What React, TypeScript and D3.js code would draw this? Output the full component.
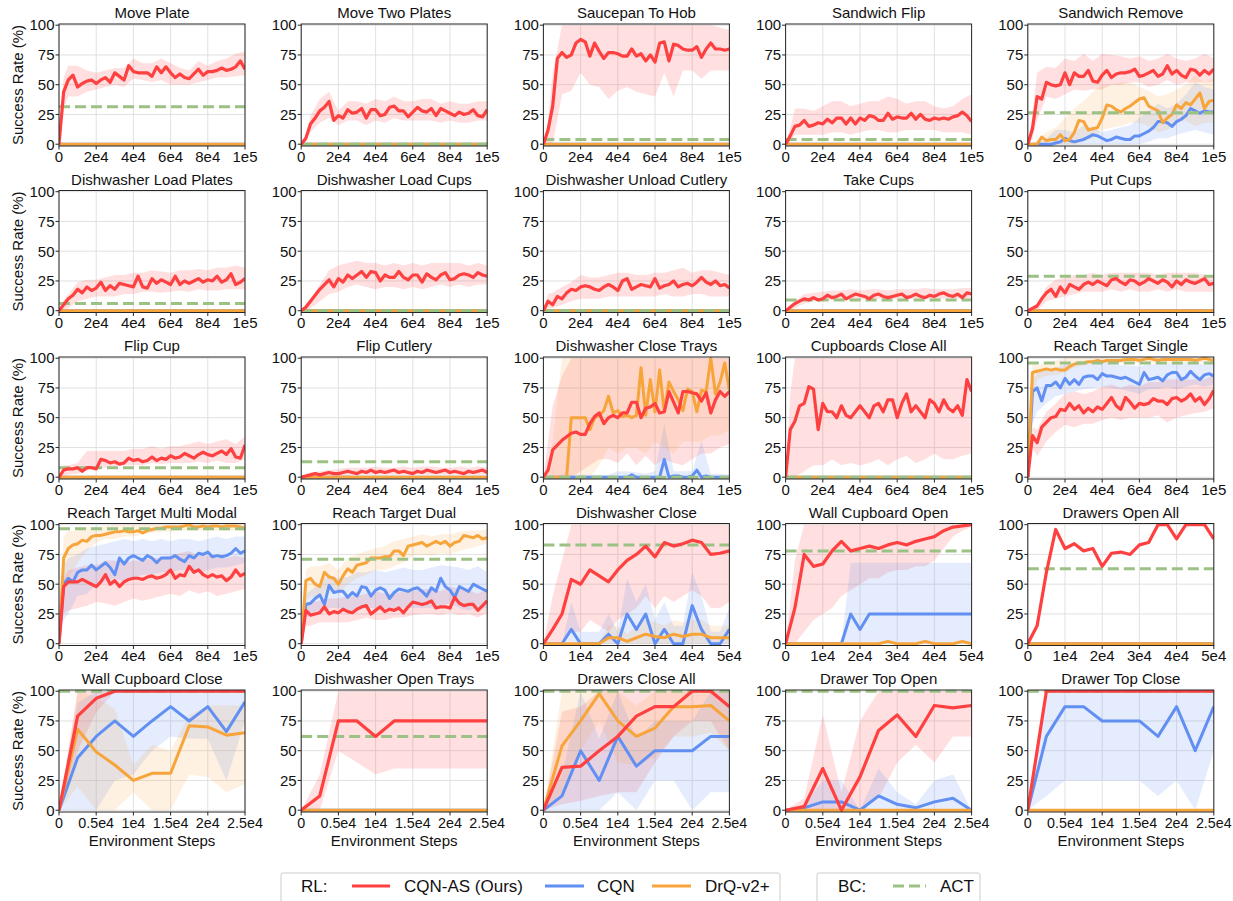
import React from 'react';
import * as d3 from 'd3';

const RED = '#ff4040';
const BLUE = '#6190f2';
const ORANGE = '#f7a43a';
const GREEN = '#9cc185';
const FONT = '"Liberation Sans", Arial, sans-serif';

// ---- data (x in thousands of environment steps, y in %) ----
const titles = [
  'Move Plate', 'Move Two Plates', 'Saucepan To Hob', 'Sandwich Flip', 'Sandwich Remove',
  'Dishwasher Load Plates', 'Dishwasher Load Cups', 'Dishwasher Unload Cutlery', 'Take Cups', 'Put Cups',
  'Flip Cup', 'Flip Cutlery', 'Dishwasher Close Trays', 'Cupboards Close All', 'Reach Target Single',
  'Reach Target Multi Modal', 'Reach Target Dual', 'Dishwasher Close', 'Wall Cupboard Open', 'Drawers Open All',
  'Wall Cupboard Close', 'Dishwasher Open Trays', 'Drawers Close All', 'Drawer Top Open', 'Drawer Top Close',
];
const spans = [100, 100, 100, 100, 100, 100, 100, 100, 100, 100, 100, 100, 100, 100, 100, 100, 100, 50, 50, 50, 25, 25, 25, 25, 25];
const actLevels = [31.5, 0, 4, 4, 26.5, 6, 0, 0, 9, 29, 8, 13, 0, 0, 96, 96.5, 71, 83, 78, 63, 100, 62, 100, 100, 100];

const yTicks = [0, 25, 50, 75, 100];
const xTicks100 = [0, 20, 40, 60, 80, 100];
const xLabels100 = ['0', '2e4', '4e4', '6e4', '8e4', '1e5'];
const xTicks50 = [0, 10, 20, 30, 40, 50];
const xLabels50 = ['0', '1e4', '2e4', '3e4', '4e4', '5e4'];
const xTicks25 = [0, 5, 10, 15, 20, 25];
const xLabels25 = ['0', '0.5e4', '1e4', '1.5e4', '2e4', '2.5e4'];

const steps1e5 = [0, 2.5, 5, 7.5, 10, 12.5, 15, 17.5, 20, 22.5, 25, 27.5, 30, 32.5, 35, 37.5, 40, 42.5, 45, 47.5, 50, 52.5, 55, 57.5, 60, 62.5, 65, 67.5, 70, 72.5, 75, 77.5, 80, 82.5, 85, 87.5, 90, 92.5, 95, 97.5, 100];
const bandSteps1e5 = [0, 2.5, 5, 10, 15, 20, 25, 30, 35, 40, 45, 50, 55, 60, 65, 70, 75, 80, 85, 90, 95, 100];
const steps5e4 = [0, 2.5, 5, 7.5, 10, 12.5, 15, 17.5, 20, 22.5, 25, 27.5, 30, 32.5, 35, 37.5, 40, 42.5, 45, 47.5, 50];
const steps25e3 = [0, 2.5, 5, 7.5, 10, 12.5, 15, 17.5, 20, 22.5, 25];
const zeroLine = [0, 0];

// Move Plate
const movePlateAs = [0, 44, 54, 58, 48, 51, 53, 54, 51, 54, 56, 52, 60, 57, 54, 66, 61, 60, 60, 60, 57, 65, 60, 65, 60, 56, 59, 56, 55, 59, 63, 58, 61, 61, 62, 64, 62, 63, 65, 70, 63];
const movePlateAsLo = [0, 30, 40, 40, 44, 46, 48, 50, 48, 55, 54, 52, 54, 50, 50, 50, 52, 54, 56, 56, 57, 58];
const movePlateAsHi = [0, 56, 66, 66, 62, 60, 62, 64, 64, 72, 68, 68, 72, 68, 64, 62, 70, 66, 70, 72, 76, 78];
// Move Two Plates
const moveTwoAs = [0, 5, 17, 22, 28, 31, 36, 20, 24, 22, 29, 26, 27, 30, 22, 29, 29, 24, 25, 31, 32, 28, 28, 23, 27, 31, 28, 27, 30, 24, 30, 28, 26, 24, 27, 25, 26, 29, 24, 23, 29];
const moveTwoAsLo = [0, 2, 10, 18, 22, 16, 20, 20, 16, 20, 18, 22, 20, 20, 20, 20, 18, 20, 18, 18, 20, 20];
const moveTwoAsHi = [0, 8, 24, 38, 44, 28, 36, 36, 34, 38, 36, 40, 36, 36, 38, 38, 34, 36, 34, 34, 36, 36];
// Saucepan To Hob
const saucepanAs = [0, 12, 32, 72, 77, 73, 75, 85, 88, 86, 74, 85, 78, 72, 77, 77, 76, 74, 74, 80, 74, 76, 70, 75, 69, 85, 86, 70, 84, 83, 80, 79, 79, 82, 73, 80, 85, 80, 80, 79, 80];
const saucepanAsLo = [0, 0, 0, 42, 45, 60, 50, 48, 38, 45, 48, 44, 42, 40, 60, 40, 62, 62, 55, 62, 62, 62];
const saucepanAsHi = [0, 20, 60, 100, 100, 100, 100, 100, 100, 100, 100, 100, 100, 100, 100, 100, 100, 100, 100, 100, 98, 96];
// Sandwich Flip
const flipSandAs = [0, 7, 15, 16, 20, 15, 16, 18, 17, 21, 18, 22, 22, 17, 22, 17, 22, 20, 24, 23, 20, 20, 26, 21, 23, 22, 22, 26, 21, 25, 21, 20, 22, 21, 22, 21, 23, 24, 27, 24, 19];
const flipSandAsLo = [0, 2, 8, 8, 8, 8, 10, 10, 8, 10, 12, 12, 10, 10, 12, 12, 12, 12, 10, 10, 10, 8];
const flipSandAsHi = [0, 14, 30, 30, 28, 32, 36, 36, 32, 34, 36, 36, 40, 38, 34, 36, 36, 32, 30, 32, 38, 42];
// Sandwich Remove
const removeSandAs = [0, 13, 40, 38, 52, 50, 49, 50, 60, 50, 60, 57, 57, 62, 53, 52, 58, 62, 56, 59, 60, 60, 61, 63, 57, 58, 60, 62, 57, 59, 66, 59, 62, 58, 56, 63, 62, 58, 62, 59, 63];
const removeSandAsLo = [0, 5, 20, 40, 38, 42, 46, 45, 46, 46, 50, 50, 52, 52, 48, 50, 54, 50, 52, 52, 52, 52];
const removeSandAsHi = [0, 25, 60, 65, 64, 72, 70, 76, 70, 76, 75, 74, 72, 74, 70, 72, 76, 72, 70, 72, 76, 72];
const removeSandCqn = [0, 0, 0, 0, 0, 0, 1, 2, 5, 3, 2, 3, 4, 6, 8, 7, 5, 3, 4, 6, 5, 4, 4, 7, 7, 9, 11, 14, 19, 19, 18, 15, 19, 21, 24, 30, 28, 26, 28, 27, 27];
const removeSandCqnLo = [0, 0, 0, 0, 0, 0, 0, 0, 0, 0, 0, 0, 0, 0, 2, 5, 5, 8, 10, 12, 10, 8];
const removeSandCqnHi = [0, 0, 0, 5, 12, 12, 10, 16, 14, 10, 12, 14, 16, 22, 28, 34, 30, 34, 42, 52, 48, 46];
const removeSandDrq = [0, 0, 0, 6, 3, 4, 4, 8, 3, 4, 10, 20, 19, 12, 13, 14, 22, 33, 32, 29, 27, 30, 32, 35, 38, 39, 32, 30, 28, 18, 22, 25, 33, 30, 35, 33, 38, 43, 30, 36, 37];
const removeSandDrqLo = [0, 0, 0, 0, 0, 0, 0, 2, 5, 12, 14, 15, 18, 18, 15, 10, 12, 18, 20, 15, 18, 18];
const removeSandDrqHi = [0, 0, 4, 10, 14, 22, 30, 36, 44, 50, 50, 52, 52, 48, 45, 40, 42, 46, 50, 58, 52, 55];
// Dishwasher Load Plates
const loadPlatesAs = [0, 5, 10, 13, 18, 15, 20, 17, 19, 24, 17, 21, 18, 23, 22, 21, 20, 29, 20, 19, 27, 23, 26, 24, 22, 29, 22, 25, 23, 25, 27, 24, 26, 25, 29, 24, 26, 31, 22, 24, 27];
const loadPlatesAsLo = [0, 1, 2, 8, 10, 12, 12, 12, 14, 14, 16, 16, 15, 16, 17, 16, 18, 17, 17, 18, 18, 18];
const loadPlatesAsHi = [0, 9, 14, 24, 26, 26, 28, 30, 30, 32, 32, 34, 33, 32, 34, 34, 35, 34, 36, 36, 38, 36];
// Dishwasher Load Cups
const loadCupsAs = [0, 3, 8, 13, 18, 22, 26, 20, 27, 24, 30, 27, 30, 33, 28, 33, 32, 25, 30, 28, 28, 33, 28, 26, 30, 30, 24, 31, 28, 26, 30, 32, 26, 27, 30, 31, 30, 28, 32, 30, 29];
const loadCupsAsLo = [0, 0, 2, 8, 14, 16, 20, 22, 20, 18, 20, 20, 18, 20, 18, 20, 22, 20, 22, 20, 22, 22];
const loadCupsAsHi = [0, 6, 10, 22, 34, 38, 40, 42, 40, 40, 38, 40, 38, 40, 38, 40, 40, 40, 40, 38, 40, 38];
// Dishwasher Unload Cutlery
const unloadAs = [0, 8, 5, 12, 10, 15, 18, 17, 20, 21, 20, 18, 17, 20, 22, 20, 17, 25, 27, 18, 20, 22, 21, 20, 27, 19, 21, 22, 25, 20, 22, 23, 21, 24, 28, 24, 22, 25, 21, 22, 19];
const unloadAsLo = [0, 2, 2, 5, 8, 10, 10, 10, 12, 12, 12, 12, 12, 12, 14, 12, 12, 14, 14, 12, 12, 12];
const unloadAsHi = [0, 14, 15, 20, 24, 30, 28, 28, 30, 32, 32, 30, 30, 32, 32, 34, 36, 32, 34, 34, 32, 30];
// Take Cups
const takeCupsAs = [0, 3, 6, 8, 10, 9, 11, 9, 10, 13, 11, 12, 14, 10, 12, 14, 13, 12, 10, 13, 14, 12, 11, 12, 13, 14, 11, 12, 14, 12, 11, 13, 12, 14, 15, 13, 12, 14, 11, 15, 14];
const takeCupsAsLo = [0, 1, 2, 6, 8, 8, 9, 9, 9, 9, 10, 10, 10, 10, 10, 10, 10, 10, 10, 10, 10, 10];
const takeCupsAsHi = [0, 5, 8, 14, 15, 16, 17, 17, 18, 17, 18, 18, 17, 18, 18, 18, 19, 18, 18, 18, 19, 19];
// Put Cups
const putCupsAs = [0, 2, 4, 10, 15, 18, 12, 20, 15, 22, 20, 18, 22, 24, 22, 25, 23, 21, 26, 27, 24, 22, 26, 25, 22, 24, 27, 25, 23, 26, 24, 20, 25, 22, 26, 24, 23, 25, 27, 22, 23];
const putCupsAsLo = [0, 0, 0, 8, 10, 12, 14, 16, 16, 16, 18, 16, 18, 16, 16, 18, 16, 18, 16, 16, 16, 16];
const putCupsAsHi = [0, 4, 6, 20, 26, 28, 30, 30, 32, 30, 32, 32, 32, 32, 32, 30, 32, 32, 32, 32, 30, 30];
// Flip Cup
const flipCupAs = [0, 6, 7, 7, 8, 5, 8, 8, 7, 15, 14, 12, 13, 11, 12, 16, 14, 15, 13, 14, 17, 14, 16, 15, 18, 16, 17, 20, 18, 16, 19, 21, 19, 18, 20, 22, 19, 24, 17, 16, 27];
const flipCupAsLo = [0, 1, 2, 3, 6, 8, 8, 9, 10, 10, 10, 12, 11, 12, 12, 12, 13, 12, 14, 12, 12, 15];
const flipCupAsHi = [0, 10, 10, 12, 22, 22, 22, 22, 22, 24, 24, 26, 24, 26, 26, 28, 30, 28, 30, 32, 28, 34];
// Flip Cutlery
const flipCutleryAs = [0, 1, 2, 3, 2, 3, 4, 3, 3, 4, 5, 4, 3, 5, 4, 6, 4, 5, 4, 5, 6, 4, 5, 4, 3, 5, 4, 6, 5, 4, 5, 6, 4, 5, 4, 3, 5, 4, 5, 6, 4];
const flipCutleryAsLo = [0, 0, 0, 1, 1, 1, 1, 2, 2, 2, 2, 2, 2, 2, 2, 2, 2, 2, 2, 2, 2, 2];
const flipCutleryAsHi = [0, 3, 4, 5, 6, 7, 8, 8, 8, 9, 8, 8, 9, 8, 9, 9, 8, 8, 9, 8, 9, 8];
// Dishwasher Close Trays
const closeTraysAs = [0, 6, 23, 27, 31, 34, 37, 38, 36, 36, 45, 51, 54, 45, 50, 52, 50, 54, 54, 63, 63, 50, 58, 59, 62, 54, 55, 72, 63, 54, 72, 72, 71, 70, 64, 71, 54, 65, 72, 68, 72];
const closeTraysAsLo = [0, 0, 0, 0, 0, 5, 10, 15, 15, 12, 20, 10, 18, 10, 15, 12, 10, 15, 20, 20, 25, 28];
const closeTraysAsHi = [0, 30, 60, 85, 100, 100, 100, 100, 100, 100, 100, 100, 100, 100, 100, 100, 100, 100, 100, 100, 100, 100];
const closeTraysCqn = [0, 0, 0, 0, 0, 0, 0, 0, 0, 0, 0, 0, 0, 0, 0, 0, 0, 0, 0, 2, 0, 0, 0, 0, 0, 0, 15, 0, 1, 1, 0, 0, 1, 6, 0, 1, 0, 0, 0, 0, 0];
const closeTraysCqnLo = [0, 0, 0, 0, 0, 0, 0, 0, 0, 0, 0, 0, 0, 0, 0, 0, 0, 0, 0, 0, 0, 0];
const closeTraysCqnHi = [0, 0, 0, 2, 2, 2, 2, 2, 2, 5, 5, 4, 3, 5, 45, 5, 5, 5, 30, 3, 3, 2];
const closeTraysDrq = [0, 0, 0, 0, 0, 0, 50, 50, 50, 50, 40, 50, 52, 56, 68, 54, 56, 51, 52, 50, 52, 92, 52, 82, 55, 90, 55, 80, 72, 65, 56, 74, 72, 55, 73, 72, 100, 70, 80, 96, 73];
const closeTraysDrqLo = [0, 0, 0, 0, 0, 0, 0, 10, 25, 20, 25, 25, 20, 30, 25, 20, 30, 30, 30, 35, 35, 40];
const closeTraysDrqHi = [0, 0, 30, 100, 100, 100, 100, 100, 100, 100, 100, 100, 100, 100, 100, 100, 100, 100, 100, 100, 100, 100];
// Cupboards Close All
const cupboardsAs = [0, 40, 47, 60, 62, 76, 74, 40, 62, 55, 55, 50, 60, 52, 50, 55, 60, 55, 50, 60, 62, 55, 65, 65, 50, 62, 70, 55, 60, 55, 50, 65, 62, 55, 65, 58, 55, 60, 52, 82, 72];
const cupboardsAsLo = [0, 0, 0, 5, 10, 10, 15, 10, 12, 10, 12, 15, 10, 15, 18, 12, 15, 20, 15, 15, 18, 20];
const cupboardsAsHi = [0, 70, 100, 100, 100, 100, 100, 100, 100, 100, 100, 100, 100, 100, 100, 100, 100, 100, 100, 100, 100, 100];
// Reach Target Single
const reachSingleAs = [0, 35, 29, 42, 46, 50, 51, 57, 56, 62, 57, 60, 54, 58, 55, 59, 57, 62, 67, 60, 57, 67, 63, 58, 62, 61, 62, 66, 64, 64, 61, 66, 67, 64, 66, 70, 64, 67, 61, 66, 73];
const reachSingleAsLo = [0, 25, 18, 30, 38, 44, 42, 45, 45, 48, 50, 48, 50, 50, 50, 52, 46, 50, 52, 54, 55, 58];
const reachSingleAsHi = [0, 42, 40, 55, 62, 70, 72, 70, 72, 76, 78, 75, 78, 76, 80, 80, 82, 82, 82, 82, 82, 86];
const reachSingleCqn = [0, 72, 75, 64, 77, 77, 80, 75, 83, 78, 82, 78, 84, 85, 85, 82, 87, 85, 85, 84, 83, 84, 82, 80, 78, 88, 82, 83, 84, 81, 86, 88, 88, 82, 84, 89, 85, 82, 86, 87, 85];
const reachSingleCqnLo = [0, 45, 55, 62, 68, 70, 72, 74, 75, 76, 75, 74, 72, 70, 74, 74, 76, 74, 76, 78, 76, 78];
const reachSingleCqnHi = [0, 82, 88, 90, 92, 95, 95, 95, 96, 96, 96, 94, 94, 93, 95, 95, 96, 95, 96, 96, 95, 96];
const reachSingleDrq = [0, 88, 89, 90, 91, 90, 91, 90, 90, 93, 95, 96, 96, 97, 97, 98, 97, 98, 98, 98, 98, 99, 99, 99, 98, 99, 100, 99, 98, 99, 99, 99, 99, 99, 99, 99, 98, 99, 100, 99, 98];
const reachSingleDrqLo = [0, 60, 82, 85, 86, 88, 92, 94, 96, 96, 96, 96, 96, 96, 96, 96, 96, 96, 96, 96, 96, 96];
const reachSingleDrqHi = [0, 95, 94, 96, 98, 100, 100, 100, 100, 100, 100, 100, 100, 100, 100, 100, 100, 100, 100, 100, 100, 100];
// Reach Target Multi Modal
const reachMultiAs = [0, 48, 52, 52, 52, 54, 52, 50, 48, 52, 58, 50, 53, 48, 52, 54, 55, 55, 54, 56, 57, 55, 56, 58, 62, 55, 58, 57, 65, 60, 62, 58, 56, 58, 56, 57, 53, 56, 62, 57, 59];
const reachMultiAsLo = [0, 25, 28, 30, 32, 35, 34, 32, 35, 38, 36, 38, 40, 42, 40, 45, 42, 44, 40, 42, 44, 46];
const reachMultiAsHi = [0, 55, 62, 64, 66, 66, 70, 70, 68, 70, 70, 72, 72, 74, 76, 78, 74, 74, 72, 72, 74, 72];
const reachMultiCqn = [0, 50, 55, 52, 60, 62, 62, 66, 62, 65, 68, 64, 58, 72, 67, 72, 74, 72, 70, 74, 72, 68, 72, 72, 72, 74, 71, 69, 74, 72, 76, 75, 77, 73, 74, 73, 74, 76, 80, 76, 78];
const reachMultiCqnLo = [0, 20, 25, 40, 42, 50, 52, 55, 52, 55, 58, 58, 60, 60, 62, 62, 60, 62, 64, 64, 66, 68];
const reachMultiCqnHi = [0, 65, 72, 75, 80, 82, 84, 86, 88, 86, 88, 86, 88, 86, 88, 88, 86, 88, 90, 88, 90, 90];
const reachMultiDrq = [0, 72, 80, 83, 84, 87, 86, 90, 91, 91, 92, 93, 94, 94, 95, 94, 94, 95, 93, 95, 96, 97, 97, 98, 98, 98, 98, 99, 100, 98, 98, 99, 98, 99, 99, 98, 99, 99, 99, 98, 97];
const reachMultiDrqLo = [0, 40, 55, 68, 78, 85, 88, 88, 90, 90, 92, 93, 94, 94, 95, 95, 95, 95, 95, 95, 95, 94];
const reachMultiDrqHi = [0, 90, 95, 95, 98, 98, 99, 100, 100, 100, 100, 100, 100, 100, 100, 100, 100, 100, 100, 100, 100, 100];
// Reach Target Dual
const reachDualAs = [0, 28, 24, 25, 26, 31, 25, 27, 26, 29, 27, 26, 29, 31, 32, 25, 28, 31, 27, 29, 28, 30, 26, 31, 35, 34, 33, 34, 36, 30, 31, 31, 30, 39, 34, 32, 33, 33, 28, 32, 36];
const reachDualAsLo = [0, 15, 15, 18, 18, 18, 18, 20, 22, 20, 20, 22, 22, 24, 25, 25, 24, 26, 24, 25, 22, 26];
const reachDualAsHi = [0, 35, 35, 36, 38, 38, 40, 40, 42, 44, 42, 42, 44, 44, 46, 46, 44, 48, 46, 45, 42, 46];
const reachDualCqn = [0, 33, 34, 38, 41, 33, 49, 43, 44, 44, 39, 43, 40, 48, 47, 40, 45, 47, 45, 38, 43, 46, 45, 44, 46, 47, 44, 40, 47, 44, 55, 48, 45, 39, 48, 46, 44, 50, 48, 46, 44];
const reachDualCqnLo = [0, 22, 25, 25, 30, 30, 28, 28, 30, 30, 30, 30, 30, 30, 30, 30, 32, 34, 30, 28, 30, 30];
const reachDualCqnHi = [0, 42, 45, 50, 58, 55, 56, 60, 60, 62, 60, 62, 64, 62, 62, 64, 66, 65, 64, 62, 65, 60];
const reachDualDrq = [0, 53, 55, 50, 48, 60, 56, 55, 50, 57, 63, 60, 66, 67, 68, 72, 72, 72, 73, 73, 78, 78, 74, 82, 83, 84, 85, 82, 84, 86, 84, 86, 82, 85, 86, 91, 90, 89, 91, 88, 89];
const reachDualDrqLo = [0, 35, 40, 38, 45, 42, 50, 55, 58, 62, 62, 65, 68, 74, 75, 74, 76, 75, 78, 80, 82, 84];
const reachDualDrqHi = [0, 62, 65, 65, 68, 62, 72, 75, 78, 80, 82, 86, 88, 90, 92, 90, 92, 92, 94, 95, 95, 96];
// Dishwasher Close
const dwCloseAs = [0, 12, 25, 54, 50, 62, 57, 52, 62, 70, 75, 82, 73, 85, 82, 84, 87, 85, 75, 76, 78];
const dwCloseAsLo = [0, 0, 0, 10, 10, 20, 15, 10, 20, 25, 30, 40, 30, 40, 35, 40, 45, 40, 30, 30, 35];
const dwCloseAsHi = [0, 40, 70, 100, 100, 100, 100, 100, 100, 100, 100, 100, 100, 100, 100, 100, 100, 100, 100, 100, 100];
const dwCloseCqn = [0, 0, 0, 12, 0, 0, 0, 8, 0, 25, 12, 25, 0, 12, 0, 0, 32, 12, 0, 0, 12];
const dwCloseCqnLo = [0, 0, 0, 0, 0, 0, 0, 0, 0, 0, 0, 0, 0, 0, 0, 0, 0, 0, 0, 0, 0];
const dwCloseCqnHi = [0, 0, 0, 35, 10, 10, 10, 25, 10, 55, 35, 50, 20, 35, 15, 15, 60, 40, 10, 10, 30];
const dwCloseDrq = [0, 0, 0, 0, 0, 0, 0, 5, 5, 2, 5, 8, 6, 5, 8, 6, 8, 8, 5, 5, 5];
const dwCloseDrqLo = [0, 0, 0, 0, 0, 0, 0, 0, 0, 0, 0, 0, 0, 0, 0, 0, 0, 0, 0, 0, 0];
const dwCloseDrqHi = [0, 0, 0, 0, 0, 0, 2, 15, 15, 8, 15, 20, 18, 15, 20, 18, 20, 20, 15, 15, 15];
// Wall Cupboard Open
const wallOpenAs = [0, 30, 75, 65, 67, 78, 86, 78, 80, 82, 80, 83, 85, 83, 86, 88, 90, 95, 98, 99, 100];
const wallOpenAsLo = [0, 0, 10, 20, 25, 30, 40, 45, 50, 55, 55, 60, 62, 62, 65, 65, 70, 80, 90, 95, 98];
const wallOpenAsHi = [0, 70, 100, 100, 100, 100, 100, 100, 100, 100, 100, 100, 100, 100, 100, 100, 100, 100, 100, 100, 100];
const wallOpenCqn = [0, 0, 0, 0, 0, 0, 0, 25, 12, 25, 25, 25, 25, 25, 25, 25, 25, 25, 25, 25, 25];
const wallOpenCqnLo = [0, 0, 0, 0, 0, 0, 0, 0, 0, 0, 0, 0, 0, 0, 0, 0, 0, 0, 0, 0, 0];
const wallOpenCqnHi = [0, 0, 0, 0, 0, 0, 0, 68, 68, 68, 68, 68, 68, 68, 68, 68, 68, 68, 68, 68, 68];
const wallOpenDrq = [0, 0, 0, 0, 0, 0, 0, 0, 0, 0, 0, 2, 0, 0, 0, 2, 0, 0, 0, 2, 0];
// Drawers Open All
const drawersOpenAs = [0, 15, 60, 96, 80, 84, 78, 80, 65, 76, 77, 75, 83, 85, 100, 100, 88, 100, 100, 100, 88];
// Wall Cupboard Close
const wallCloseAs = [0, 79, 94, 100, 100, 100, 100, 100, 100, 100, 100];
const wallCloseAsLo = [0, 50, 82, 100, 100, 100, 100, 100, 100, 100, 100];
const wallCloseAsHi = [0, 100, 100, 100, 100, 100, 100, 100, 100, 100, 100];
const wallCloseCqn = [0, 44, 62, 75, 62, 75, 87, 75, 87, 66, 91];
const wallCloseCqnLo = [0, 0, 0, 25, 30, 50, 62, 60, 60, 25, 75];
const wallCloseCqnHi = [0, 90, 100, 100, 100, 100, 100, 100, 100, 100, 100];
const wallCloseDrq = [0, 68, 49, 38, 25, 31, 31, 71, 70, 63, 65];
const wallCloseDrqLo = [0, 20, 0, 0, 15, 0, 0, 30, 28, 15, 22];
const wallCloseDrqHi = [0, 100, 95, 85, 38, 55, 50, 80, 88, 88, 88];
// Dishwasher Open Trays
const openTraysAs = [0, 12, 75, 75, 62, 75, 75, 75, 75, 75, 75];
const openTraysAsLo = [0, 0, 50, 40, 30, 35, 35, 35, 35, 35, 35];
const openTraysAsHi = [0, 30, 100, 100, 100, 100, 100, 100, 100, 100, 100];
// Drawers Close All
const drawersCloseAs = [0, 36, 37, 50, 62, 79, 87, 87, 100, 100, 87];
const drawersCloseAsLo = [0, 5, 8, 12, 15, 15, 40, 62, 75, 75, 50];
const drawersCloseAsHi = [0, 83, 87, 100, 100, 100, 100, 100, 100, 100, 100];
const drawersCloseCqn = [0, 12, 50, 25, 62, 37, 50, 50, 50, 62, 62];
const drawersCloseCqnLo = [0, 0, 0, 0, 15, 0, 25, 25, 0, 15, 15];
const drawersCloseCqnHi = [0, 30, 100, 60, 100, 60, 75, 75, 75, 100, 100];
const drawersCloseDrq = [0, 54, 75, 98, 75, 62, 69, 87, 87, 88, 75];
const drawersCloseDrqLo = [0, 15, 50, 75, 40, 38, 45, 62, 62, 65, 50];
const drawersCloseDrqHi = [0, 100, 100, 100, 100, 88, 100, 100, 100, 100, 100];
// Drawer Top Open
const topOpenAs = [0, 3, 35, 0, 28, 67, 80, 62, 88, 86, 88];
const topOpenAsLo = [0, 0, 0, 0, 0, 10, 40, 55, 40, 62, 62];
const topOpenAsHi = [0, 10, 80, 15, 75, 100, 100, 100, 100, 100, 100];
const topOpenCqn = [0, 2, 7, 7, 0, 12, 5, 2, 7, 10, 0];
const topOpenCqnLo = [0, 0, 0, 0, 0, 0, 0, 0, 0, 0, 0];
const topOpenCqnHi = [0, 5, 25, 25, 0, 35, 15, 5, 25, 30, 0];
// Drawer Top Close
const topCloseAs = [0, 100, 100, 100, 100, 100, 100, 100, 100, 100, 100];
const topCloseCqn = [0, 62, 87, 87, 75, 75, 75, 62, 87, 50, 87];
const topCloseCqnLo = [0, 12, 25, 25, 25, 25, 25, 12, 25, 0, 50];
const topCloseCqnHi = [0, 100, 100, 100, 100, 100, 100, 100, 100, 100, 100];

type Series = { y: number[]; x: number[]; lo?: number[]; hi?: number[]; bx?: number[] };

function ser(y: number[], x: number[], lo?: number[], hi?: number[], bx?: number[]): Series {
  return { y, x, lo, hi, bx: bx || x };
}
function flat(span: number): Series {
  return { y: zeroLine, x: [0, span] };
}

const B = bandSteps1e5;
const panels: { red: Series; blue: Series; orange: Series }[] = [
  { red: ser(movePlateAs, steps1e5, movePlateAsLo, movePlateAsHi, B), blue: flat(100), orange: flat(100) },
  { red: ser(moveTwoAs, steps1e5, moveTwoAsLo, moveTwoAsHi, B), blue: flat(100), orange: flat(100) },
  { red: ser(saucepanAs, steps1e5, saucepanAsLo, saucepanAsHi, B), blue: flat(100), orange: flat(100) },
  { red: ser(flipSandAs, steps1e5, flipSandAsLo, flipSandAsHi, B), blue: flat(100), orange: flat(100) },
  {
    red: ser(removeSandAs, steps1e5, removeSandAsLo, removeSandAsHi, B),
    blue: ser(removeSandCqn, steps1e5, removeSandCqnLo, removeSandCqnHi, B),
    orange: ser(removeSandDrq, steps1e5, removeSandDrqLo, removeSandDrqHi, B),
  },
  { red: ser(loadPlatesAs, steps1e5, loadPlatesAsLo, loadPlatesAsHi, B), blue: flat(100), orange: flat(100) },
  { red: ser(loadCupsAs, steps1e5, loadCupsAsLo, loadCupsAsHi, B), blue: flat(100), orange: flat(100) },
  { red: ser(unloadAs, steps1e5, unloadAsLo, unloadAsHi, B), blue: flat(100), orange: flat(100) },
  { red: ser(takeCupsAs, steps1e5, takeCupsAsLo, takeCupsAsHi, B), blue: flat(100), orange: flat(100) },
  { red: ser(putCupsAs, steps1e5, putCupsAsLo, putCupsAsHi, B), blue: flat(100), orange: flat(100) },
  { red: ser(flipCupAs, steps1e5, flipCupAsLo, flipCupAsHi, B), blue: flat(100), orange: flat(100) },
  { red: ser(flipCutleryAs, steps1e5, flipCutleryAsLo, flipCutleryAsHi, B), blue: flat(100), orange: flat(100) },
  {
    red: ser(closeTraysAs, steps1e5, closeTraysAsLo, closeTraysAsHi, B),
    blue: ser(closeTraysCqn, steps1e5, closeTraysCqnLo, closeTraysCqnHi, B),
    orange: ser(closeTraysDrq, steps1e5, closeTraysDrqLo, closeTraysDrqHi, B),
  },
  { red: ser(cupboardsAs, steps1e5, cupboardsAsLo, cupboardsAsHi, B), blue: flat(100), orange: flat(100) },
  {
    red: ser(reachSingleAs, steps1e5, reachSingleAsLo, reachSingleAsHi, B),
    blue: ser(reachSingleCqn, steps1e5, reachSingleCqnLo, reachSingleCqnHi, B),
    orange: ser(reachSingleDrq, steps1e5, reachSingleDrqLo, reachSingleDrqHi, B),
  },
  {
    red: ser(reachMultiAs, steps1e5, reachMultiAsLo, reachMultiAsHi, B),
    blue: ser(reachMultiCqn, steps1e5, reachMultiCqnLo, reachMultiCqnHi, B),
    orange: ser(reachMultiDrq, steps1e5, reachMultiDrqLo, reachMultiDrqHi, B),
  },
  {
    red: ser(reachDualAs, steps1e5, reachDualAsLo, reachDualAsHi, B),
    blue: ser(reachDualCqn, steps1e5, reachDualCqnLo, reachDualCqnHi, B),
    orange: ser(reachDualDrq, steps1e5, reachDualDrqLo, reachDualDrqHi, B),
  },
  {
    red: ser(dwCloseAs, steps5e4, dwCloseAsLo, dwCloseAsHi),
    blue: ser(dwCloseCqn, steps5e4, dwCloseCqnLo, dwCloseCqnHi),
    orange: ser(dwCloseDrq, steps5e4, dwCloseDrqLo, dwCloseDrqHi),
  },
  {
    red: ser(wallOpenAs, steps5e4, wallOpenAsLo, wallOpenAsHi),
    blue: ser(wallOpenCqn, steps5e4, wallOpenCqnLo, wallOpenCqnHi),
    orange: ser(wallOpenDrq, steps5e4),
  },
  { red: ser(drawersOpenAs, steps5e4), blue: flat(50), orange: flat(50) },
  {
    red: ser(wallCloseAs, steps25e3, wallCloseAsLo, wallCloseAsHi),
    blue: ser(wallCloseCqn, steps25e3, wallCloseCqnLo, wallCloseCqnHi),
    orange: ser(wallCloseDrq, steps25e3, wallCloseDrqLo, wallCloseDrqHi),
  },
  { red: ser(openTraysAs, steps25e3, openTraysAsLo, openTraysAsHi), blue: flat(25), orange: flat(25) },
  {
    red: ser(drawersCloseAs, steps25e3, drawersCloseAsLo, drawersCloseAsHi),
    blue: ser(drawersCloseCqn, steps25e3, drawersCloseCqnLo, drawersCloseCqnHi),
    orange: ser(drawersCloseDrq, steps25e3, drawersCloseDrqLo, drawersCloseDrqHi),
  },
  {
    red: ser(topOpenAs, steps25e3, topOpenAsLo, topOpenAsHi),
    blue: ser(topOpenCqn, steps25e3, topOpenCqnLo, topOpenCqnHi),
    orange: flat(25),
  },
  {
    red: ser(topCloseAs, steps25e3),
    blue: ser(topCloseCqn, steps25e3, topCloseCqnLo, topCloseCqnHi),
    orange: flat(25),
  },
];

// ---- layout ----
const COL_X = 59;
const COL_STEP = 242.2;
const ROW_Y = 24;
const ROW_STEP = 166.5;
const PW = 186;
const PH = 122;

function Panel({ i }: { i: number }) {
  const row = Math.floor(i / 5);
  const col = i % 5;
  const left = COL_X + col * COL_STEP;
  const top = ROW_Y + row * ROW_STEP;
  const span = spans[i];
  const x = d3.scaleLinear().domain([0, span]).range([left, left + PW]);
  const y = d3.scaleLinear().domain([-1.5, 101]).range([top + PH, top]);
  const ticks = span === 100 ? xTicks100 : span === 50 ? xTicks50 : xTicks25;
  const labels = span === 100 ? xLabels100 : span === 50 ? xLabels50 : xLabels25;
  const tickFont = span === 25 ? 14.3 : 15;
  const p = panels[i];

  const linePath = (s: Series) =>
    d3.line<number>().x((_, k) => x(s.x[k])).y((v) => y(v))(s.y) || '';
  const bandPath = (s: Series) => {
    if (!s.lo || !s.hi) return null;
    const bx = s.bx as number[];
    const lo = s.lo;
    const hi = s.hi;
    return d3.area<number>().x((_, k) => x(bx[k])).y0((_, k) => y(lo[k])).y1((_, k) => y(hi[k]))(lo) || '';
  };

  const bands: [Series, string, number][] = [
    [p.red, RED, 0.17],
    [p.blue, BLUE, 0.17],
    [p.orange, ORANGE, 0.15],
  ];

  return (
    <g>
      <defs>
        <clipPath id={`clip${i}`}>
          <rect x={left} y={top} width={PW} height={PH} />
        </clipPath>
      </defs>
      {ticks.map((t) => (
        <line key={`gx${t}`} x1={x(t)} x2={x(t)} y1={top} y2={top + PH} stroke="#dedede" strokeWidth={0.9} />
      ))}
      {yTicks.map((t) => (
        <line key={`gy${t}`} x1={left} x2={left + PW} y1={y(t)} y2={y(t)} stroke="#dedede" strokeWidth={0.9} />
      ))}
      <g clipPath={`url(#clip${i})`}>
        {bands.map(([s, c, o], k) => {
          const d = bandPath(s);
          return d ? <path key={k} d={d} fill={c} fillOpacity={o} stroke="none" /> : null;
        })}
        <path d={linePath(p.blue)} fill="none" stroke={BLUE} strokeWidth={3} strokeLinejoin="round" />
        <path d={linePath(p.orange)} fill="none" stroke={ORANGE} strokeWidth={3} strokeLinejoin="round" />
        <line x1={x(0)} x2={x(span)} y1={y(actLevels[i])} y2={y(actLevels[i])} stroke={GREEN} strokeWidth={3} strokeDasharray="11,5" />
        <path d={linePath(p.red)} fill="none" stroke={RED} strokeWidth={3.2} strokeLinejoin="round" />
      </g>
      <rect x={left} y={top} width={PW} height={PH} fill="none" stroke="#262626" strokeWidth={1} />
      {ticks.map((t, k) => (
        <g key={`tx${t}`}>
          <line x1={x(t)} x2={x(t)} y1={top + PH} y2={top + PH + 3.5} stroke="#262626" />
          <text x={x(t)} y={top + PH + 15.5} textAnchor="middle" fontSize={tickFont}>{labels[k]}</text>
        </g>
      ))}
      {yTicks.map((t) => (
        <g key={`ty${t}`}>
          <line x1={left - 3.5} x2={left} y1={y(t)} y2={y(t)} stroke="#262626" />
          <text x={left - 4.5} y={y(t) + 5.3} textAnchor="end" fontSize={15}>{t}</text>
        </g>
      ))}
      <text x={left + PW / 2} y={top - 6} textAnchor="middle" fontSize={15}>{titles[i]}</text>
      {col === 0 && (
        <text transform={`translate(23,${top + PH / 2}) rotate(-90)`} textAnchor="middle" fontSize={15}>
          Success Rate (%)
        </text>
      )}
      {row === 4 && (
        <text x={left + PW / 2} y={top + PH + 34} textAnchor="middle" fontSize={15}>
          Environment Steps
        </text>
      )}
    </g>
  );
}

function Legend() {
  const cy = 886;
  return (
    <g fontSize={17}>
      <rect x={281} y={873} width={499} height={34} fill="white" stroke="#cccccc" rx={2} />
      <text x={301} y={cy + 6}>RL:</text>
      <line x1={352} x2={390} y1={cy} y2={cy} stroke={RED} strokeWidth={3.2} />
      <text x={404} y={cy + 6}>CQN-AS (Ours)</text>
      <line x1={545} x2={584} y1={cy} y2={cy} stroke={BLUE} strokeWidth={3} />
      <text x={597} y={cy + 6}>CQN</text>
      <line x1={652} x2={691} y1={cy} y2={cy} stroke={ORANGE} strokeWidth={3} />
      <text x={705} y={cy + 6}>DrQ-v2+</text>
      <rect x={817} y={873} width={163} height={34} fill="white" stroke="#cccccc" rx={2} />
      <text x={838} y={cy + 6}>BC:</text>
      <line x1={893} x2={926} y1={cy} y2={cy} stroke={GREEN} strokeWidth={3} strokeDasharray="11,5" />
      <text x={940} y={cy + 6}>ACT</text>
    </g>
  );
}

export default function App() {
  return (
    <div style={{ position: 'absolute', left: 0, top: 0 }}>
      <svg width={1233} height={901} style={{ display: 'block', background: 'white' }} fontFamily={FONT} fill="#111">
        {titles.map((_, i) => (
          <Panel key={i} i={i} />
        ))}
        <Legend />
      </svg>
    </div>
  );
}
